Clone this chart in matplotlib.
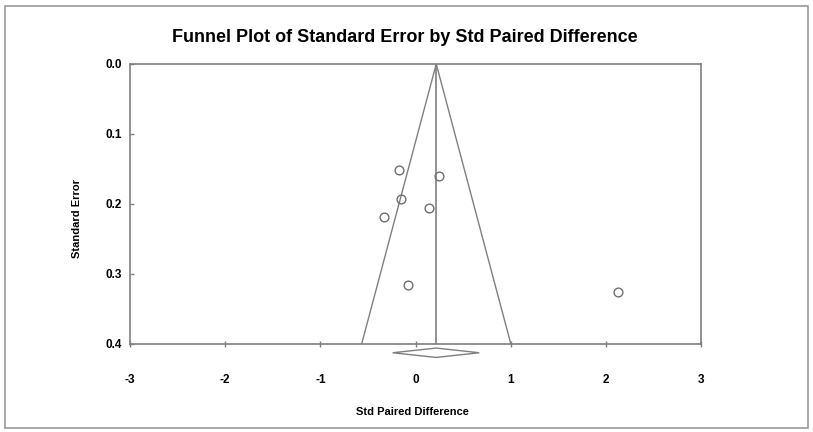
import matplotlib
matplotlib.use("Agg")
import matplotlib.pyplot as plt
from matplotlib.patches import Polygon, Rectangle

plt.rcParams['font.family'] = ['Liberation Sans', 'DejaVu Sans']

# Data
std_diff = [-0.176, 0.245, -0.155, -0.326, 0.137, -0.081, 2.13]
std_err = [0.151, 0.160, 0.193, 0.218, 0.205, 0.316, 0.325]
pooled = 0.218
ci_low, ci_high = -0.24, 0.67
x_ticks = [-3, -2, -1, 0, 1, 2, 3]
y_ticks = [0.0, 0.1, 0.2, 0.3, 0.4]
se_max = 0.4

fig = plt.figure(figsize=(8.13, 4.32), dpi=100)
ax = fig.add_axes([130/813, 1-344/432, (701-130)/813, (344-64)/432])

gray = '#7f7f7f'
for s in ax.spines.values():
    s.set_color(gray)
    s.set_linewidth(1.2)

# funnel
ax.plot([pooled-1.96*se_max, pooled, pooled+1.96*se_max], [se_max, 0, se_max],
        color=gray, lw=1.0)
ax.plot([pooled, pooled], [0, se_max], color=gray, lw=1.2)

ax.plot(std_diff, std_err, 'o', mfc='none', mec='#6f6f6f', ms=6.3, mew=1.0)

# diamond
ax.add_patch(Polygon([[ci_low, 0.4125], [pooled, 0.4058], [ci_high, 0.4125], [pooled, 0.4192]],
                     closed=True, fill=False, ec=gray, lw=1.0, clip_on=False))

ax.set_xlim(-3, 3)
ax.set_ylim(0.4, 0.0)
ax.set_xticks(x_ticks)
ax.set_xticklabels([str(t) for t in x_ticks])
ax.set_yticks(y_ticks)
ax.set_yticklabels([f"{t:.1f}" for t in y_ticks])
ax.tick_params(axis='x', direction='inout', length=5, width=1, color=gray, pad=19, labelsize=8.5)
ax.tick_params(axis='y', direction='in', length=3, width=1, color=gray, pad=6, labelsize=8.5)
for lab in ax.get_xticklabels() + ax.get_yticklabels():
    lab.set_fontweight('bold')

fig.text(405/813, 1-38/432, 'Funnel Plot of Standard Error by Std Paired Difference',
         ha='center', va='center', fontsize=13, fontweight='bold')
fig.text(412/813, 1-412/432, 'Std Paired Difference', ha='center', va='center',
         fontsize=8, fontweight='bold')
fig.text(77/813, 1-218/432, 'Standard Error', ha='center', va='center', rotation=90,
         fontsize=8, fontweight='bold')

fig.patches.append(Rectangle((5/813, 4/432), 803/813, 422/432, transform=fig.transFigure,
                             fill=False, ec='#9a9a9a', lw=1.2))

fig.savefig('out.png', dpi=100)
